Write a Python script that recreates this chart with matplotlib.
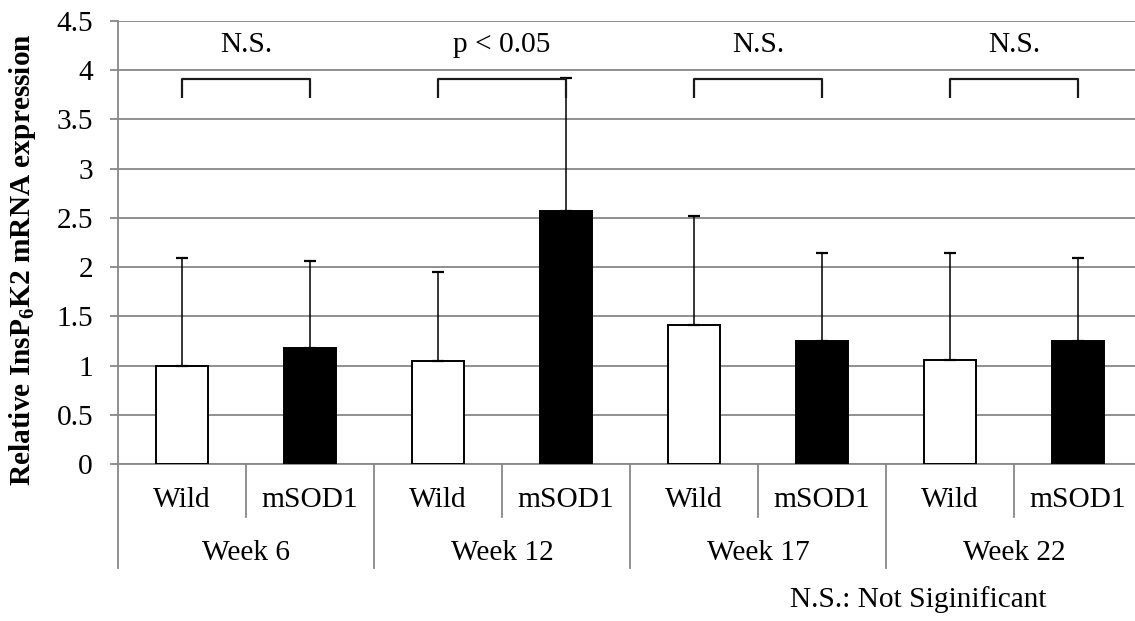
import numpy as np
import matplotlib.pyplot as plt
import matplotlib.transforms as mtransforms

plt.rcParams['font.family'] = ['Liberation Serif', 'DejaVu Serif']
plt.rcParams['mathtext.fontset'] = 'custom'
plt.rcParams['mathtext.rm'] = 'Liberation Serif'
plt.rcParams['mathtext.bf'] = 'Liberation Serif:bold'

weeks = ['Week 6', 'Week 12', 'Week 17', 'Week 22']
groups = ['Wild', 'mSOD1']
wild = [1.00, 1.05, 1.41, 1.06]
wild_top = [2.09, 1.95, 2.52, 2.14]
msod1 = [1.18, 2.57, 1.25, 1.25]
msod1_top = [2.06, 3.92, 2.14, 2.09]
signif = ['N.S.', 'p < 0.05', 'N.S.', 'N.S.']

grid_c = '#878787'
fs = 21.2

fig = plt.figure(figsize=(11.35, 6.21), dpi=100)
ax = fig.add_axes([118 / 1135, 156.7 / 621, 1024 / 1135, 443.7 / 621])

xw = np.arange(len(weeks)) * 2
xm = xw + 1
wild = np.array(wild)
msod1 = np.array(msod1)

ax.bar(xw, wild, 0.4, color='white', edgecolor='black', linewidth=1.4, zorder=3)
ax.bar(xm, msod1, 0.4, color='black', edgecolor='black', linewidth=1.4, zorder=3)
ax.errorbar(xw, wild, yerr=[np.zeros(4), np.array(wild_top) - wild], fmt='none',
            ecolor='black', elinewidth=1.1, capsize=4, capthick=1.6, zorder=4)
ax.errorbar(xm, msod1, yerr=[np.zeros(4), np.array(msod1_top) - msod1], fmt='none',
            ecolor='black', elinewidth=1.1, capsize=4, capthick=1.6, zorder=4)

# significance brackets
for i in range(len(weeks)):
    ax.plot([xw[i], xw[i], xm[i], xm[i]], [3.71, 3.91, 3.91, 3.71],
            color='#1a1a1a', lw=1.6, zorder=4, solid_capstyle='butt')
    ax.text((xw[i] + xm[i]) / 2, 4.25, signif[i], ha='center', va='center', fontsize=fs)

ax.set_xlim(-0.5, 7.5)
ax.set_ylim(0, 4.5)
ax.set_yticks(np.arange(0, 4.51, 0.5))
ax.set_yticklabels(['0', '0.5', '1', '1.5', '2', '2.5', '3', '3.5', '4', '4.5'])
ax.yaxis.grid(True, color=grid_c, lw=1.3, zorder=0)
ax.set_xticks([])
ax.tick_params(axis='y', length=6, width=1.3, color=grid_c, pad=12, labelsize=fs)
for s in ['top', 'right']:
    ax.spines[s].set_visible(False)
ax.spines['left'].set_color(grid_c)
ax.spines['left'].set_linewidth(1.3)
ax.spines['bottom'].set_color(grid_c)
ax.spines['bottom'].set_linewidth(1.3)

# two-level category axis
trans = mtransforms.blended_transform_factory(ax.transData, ax.transAxes)
for i in range(len(weeks)):
    ax.text(xw[i], -0.080, groups[0], transform=trans, ha='center', va='center', fontsize=fs)
    ax.text(xm[i], -0.080, groups[1], transform=trans, ha='center', va='center', fontsize=fs)
    ax.text(xw[i] + 0.5, -0.200, weeks[i], transform=trans, ha='center', va='center', fontsize=fs)
    ax.plot([xw[i] + 0.5] * 2, [0, -0.119], transform=trans, color=grid_c, lw=1.3, clip_on=False)
for b in list(xw - 0.5) + [xm[-1] + 0.5]:
    ax.plot([b, b], [0, -0.234], transform=trans, color=grid_c, lw=1.3, clip_on=False)

fig.text(23 / 1135, 0.582, r'Relative InsP$_{\mathbf{6}}$K2 mRNA expression', rotation=90,
         ha='center', va='center', fontsize=fs, fontweight='bold')
fig.text(918 / 1135, 1 - 600 / 621, 'N.S.: Not Siginificant', ha='center', va='center', fontsize=fs)

fig.savefig('out.png', dpi=100)
